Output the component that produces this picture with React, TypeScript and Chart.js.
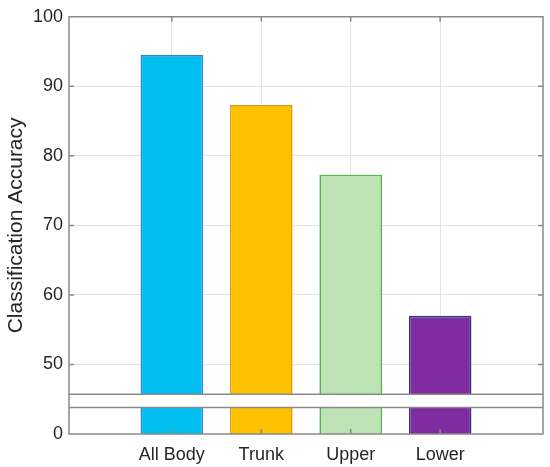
import React, { useEffect, useRef } from "react";
import { Chart, registerables } from "chart.js";

Chart.register(...registerables);

const categories = ["All Body", "Trunk", "Upper", "Lower"];
const positions = [1, 2, 3, 4];
const accuracy = [94.5, 87.3, 77.3, 57.0];
const yTicks = [40, 50, 60, 70, 80, 90, 100];
const yTickLabels = ["0", "50", "60", "70", "80", "90", "100"];
const breakLow = 43.8;
const breakHigh = 45.7;

const fillColors = ["#00BEF0", "#FFC000", "#BDE2B6", "#7F2CA1"];
const edgeColors = ["#2A86D6", "#DCA006", "#4DB848", "#263A7C"];

const AXIS = "#8a8a8a";
const GRID = "#e4e4e4";
const TEXT = "#262626";

const boxPlugin = {
  id: "boxAndBreak",
  afterDatasetsDraw(chart: any) {
    const { ctx, chartArea, scales } = chart;
    const { left, right, top, bottom } = chartArea;
    const y = scales.y;
    const x = scales.x;
    ctx.save();
    // axis break band
    const yb1 = y.getPixelForValue(breakHigh);
    const yb2 = y.getPixelForValue(breakLow);
    ctx.fillStyle = "#ffffff";
    ctx.fillRect(left, yb1, right - left, yb2 - yb1);
    ctx.strokeStyle = AXIS;
    ctx.lineWidth = 1.5;
    ctx.beginPath();
    ctx.moveTo(left, yb1);
    ctx.lineTo(right, yb1);
    ctx.moveTo(left, yb2);
    ctx.lineTo(right, yb2);
    ctx.stroke();
    // box
    ctx.beginPath();
    ctx.rect(left, top, right - left, bottom - top);
    ctx.stroke();
    // inward ticks
    const tl = 5;
    ctx.beginPath();
    yTicks.forEach((v) => {
      if (v === 40 || v === 100) return;
      const py = y.getPixelForValue(v);
      ctx.moveTo(left, py);
      ctx.lineTo(left + tl, py);
      ctx.moveTo(right, py);
      ctx.lineTo(right - tl, py);
    });
    positions.forEach((v) => {
      const px = x.getPixelForValue(v);
      ctx.moveTo(px, bottom);
      ctx.lineTo(px, bottom - tl);
      ctx.moveTo(px, top);
      ctx.lineTo(px, top + tl);
    });
    ctx.stroke();
    ctx.restore();
  },
};

export default function App() {
  const ref = useRef<HTMLCanvasElement | null>(null);
  useEffect(() => {
    document.body.style.margin = "0";
    const canvas = ref.current;
    if (!canvas) return;
    const chart = new Chart(canvas, {
      type: "bar",
      data: {
        datasets: [
          {
            data: positions.map((p, i) => ({ x: p, y: accuracy[i] })),
            backgroundColor: fillColors,
            borderColor: edgeColors,
            borderWidth: 1.6,
            borderSkipped: false,
            barPercentage: 0.7,
            categoryPercentage: 1,
          },
        ],
      },
      options: {
        animation: false,
        responsive: false,
        maintainAspectRatio: false,
        layout: { padding: { top: 15, right: 7, left: 0, bottom: 0 } },
        plugins: {
          legend: { display: false },
          tooltip: { enabled: false },
        },
        scales: {
          x: {
            type: "linear",
            offset: false,
            min: -0.15,
            max: 5.15,
            afterBuildTicks: (scale: any) => {
              scale.ticks = positions.map((v) => ({ value: v }));
            },
            afterFit: (scale: any) => {
              scale.height = 33;
            },
            ticks: {
              autoSkip: false,
              maxRotation: 0,
              padding: 10,
              color: TEXT,
              font: { family: "Liberation Sans, Arial, sans-serif", size: 18 },
              callback: (v: any) => {
                const i = positions.indexOf(Number(v));
                return i >= 0 ? categories[i] : "";
              },
            },
            grid: { offset: false, color: GRID, lineWidth: 1, drawTicks: false },
            border: { display: false },
          },
          y: {
            type: "linear",
            min: 40,
            max: 100,
            afterBuildTicks: (scale: any) => {
              scale.ticks = yTicks.map((v) => ({ value: v }));
            },
            afterFit: (scale: any) => {
              scale.width = 69;
            },
            ticks: {
              padding: 6,
              color: TEXT,
              font: { family: "Liberation Sans, Arial, sans-serif", size: 18 },
              callback: (v: any) => {
                const i = yTicks.indexOf(Number(v));
                return i >= 0 ? yTickLabels[i] : "";
              },
            },
            grid: {
              drawTicks: false,
              lineWidth: 1,
              color: (c: any) =>
                c.tick && (c.tick.value === 40 || c.tick.value === 100)
                  ? "rgba(0,0,0,0)"
                  : GRID,
            },
            border: { display: false },
            title: {
              display: true,
              text: "Classification Accuracy",
              color: TEXT,
              padding: { top: 4, bottom: 0 },
              font: { family: "Liberation Sans, Arial, sans-serif", size: 21 },
            },
          },
        },
      },
      plugins: [boxPlugin],
    });
    return () => chart.destroy();
  }, []);
  return (
    <div style={{ position: "absolute", left: 0, top: 0, width: 550, height: 467 }}>
      <canvas ref={ref} width={550} height={467} style={{ display: "block" }} />
    </div>
  );
}
